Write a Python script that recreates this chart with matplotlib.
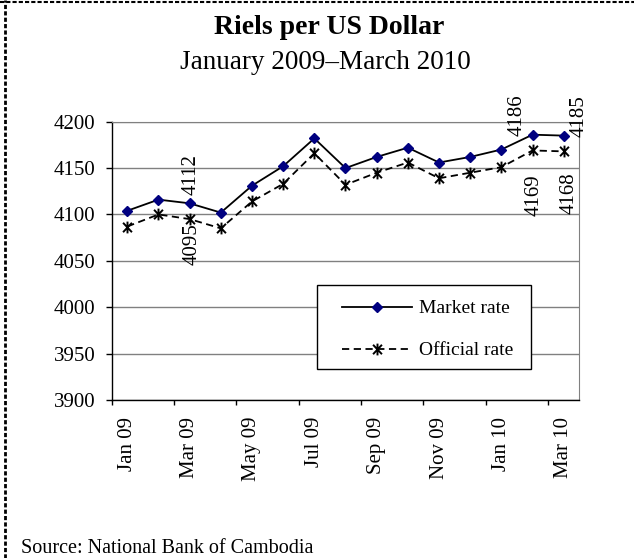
import numpy as np
import matplotlib
matplotlib.use("Agg")
import matplotlib.pyplot as plt
from matplotlib.path import Path
from matplotlib.lines import Line2D
from matplotlib.patches import Rectangle

plt.rcParams["font.family"] = ["Liberation Serif", "DejaVu Serif"]

months = [
    "Jan 09", "Feb 09", "Mar 09", "Apr 09", "May 09", "Jun 09", "Jul 09", "Aug 09",
    "Sep 09", "Oct 09", "Nov 09", "Dec 09", "Jan 10", "Feb 10", "Mar 10",
]
market_rate = [4104, 4116, 4112, 4102, 4131, 4152, 4182, 4150,
               4162, 4172, 4156, 4162, 4170, 4186, 4185]
official_rate = [4087, 4100, 4095, 4085, 4114, 4133, 4166, 4132,
                 4145, 4156, 4139, 4145, 4151, 4169, 4168]

# which points carry a value label (index into the series)
market_labelled = [2, 13, 14]
official_labelled = [2, 13, 14]

# label placement (offset in points, ha, va) -- styling only
market_label_style = {
    2: ((1, 6), "center", "bottom"),
    13: ((-4, 14), "right", "center"),
    14: ((4, 14), "left", "center"),
}
official_label_style = {
    2: ((1.5, -3), "center", "top"),
    13: ((1.5, -17), "center", "top"),
    14: ((4, -15), "center", "top"),
}

# asterisk-like marker used by the official series (x plus a vertical bar)
star_path = Path(
    [(-0.75, -0.8), (0.75, 0.8), (-0.75, 0.8), (0.75, -0.8), (0, -1), (0, 1)],
    [Path.MOVETO, Path.LINETO, Path.MOVETO, Path.LINETO, Path.MOVETO, Path.LINETO],
)

fig = plt.figure(figsize=(6.34, 5.58), dpi=100)
ax = fig.add_axes([0.1762, 0.2832, 0.7375, 0.4987])

x = np.arange(len(months))
ax.plot(x, market_rate, color="black", lw=1.3, marker="D", ms=5,
        mfc="#000080", mec="#000080", zorder=4, label="Market rate")
ax.plot(x, official_rate, color="black", lw=1.3, linestyle=(0, (4, 2.5)),
        marker=star_path, ms=8.5, mfc="none", mec="black", mew=1.4,
        zorder=4, label="Official rate")

for i in market_labelled:
    off, ha, va = market_label_style[i]
    ax.annotate(str(market_rate[i]), (x[i], market_rate[i]), xytext=off,
                textcoords="offset points", rotation=90, ha=ha, va=va,
                fontsize=15, annotation_clip=False, zorder=5)
for i in official_labelled:
    off, ha, va = official_label_style[i]
    ax.annotate(str(official_rate[i]), (x[i], official_rate[i]), xytext=off,
                textcoords="offset points", rotation=90, ha=ha, va=va,
                fontsize=15, annotation_clip=False, zorder=5)

ax.set_xlim(-0.5, len(months) - 0.5)
ax.set_ylim(3900, 4200)
ax.set_yticks(np.arange(3900, 4201, 50))
ax.set_xticks(x[::2])
ax.set_xticklabels(months[::2], rotation=90, va="top", ha="center")
ax.set_xticks(np.arange(-0.5, len(months) - 1, 2), minor=True)
ax.tick_params(axis="x", which="major", length=0, pad=12, labelsize=15)
ax.tick_params(axis="x", which="minor", length=3.6, width=1, direction="out")
ax.tick_params(axis="y", length=4.3, width=1, pad=7.5, labelsize=15, direction="out")

ax.yaxis.grid(True, color="#808080", lw=1)
ax.set_axisbelow(True)
for side in ["top", "right"]:
    ax.spines[side].set_color("#808080")
for side in ["left", "bottom"]:
    ax.spines[side].set_color("black")
    ax.spines[side].set_linewidth(1)

# legend box
ax.add_patch(Rectangle((0.4384, 0.110), 0.4576, 0.303, transform=ax.transAxes,
                       facecolor="white", edgecolor="black", lw=1, zorder=3))
ax.legend(loc="upper left", bbox_to_anchor=(0.4925, 0.360), frameon=False,
          borderpad=0, borderaxespad=0, handlelength=3.6, handletextpad=0.35,
          labelspacing=1.25, fontsize=14)

fig.text(0.52, 1 - 33.6 / 558, "Riels per US Dollar", ha="center", va="baseline",
         fontsize=20, fontweight="bold")
fig.text(0.513, 1 - 68.8 / 558, "January 2009\u2013March 2010", ha="center",
         va="baseline", fontsize=19.5)
fig.text(21 / 634, 1 - 553 / 558, "Source: National Bank of Cambodia", ha="left",
         va="baseline", fontsize=14.5)

# dotted page frame (top and left edges)
fig.add_artist(Line2D([0, 1], [1 - 1.7 / 558, 1 - 1.7 / 558], transform=fig.transFigure,
                      color="black", lw=1.5, linestyle=(0, (2, 1))))
fig.add_artist(Line2D([5 / 634, 5 / 634], [0, 1], transform=fig.transFigure,
                      color="black", lw=2, linestyle=(0, (1.5, 0.8))))

fig.savefig("out.png", dpi=100)
